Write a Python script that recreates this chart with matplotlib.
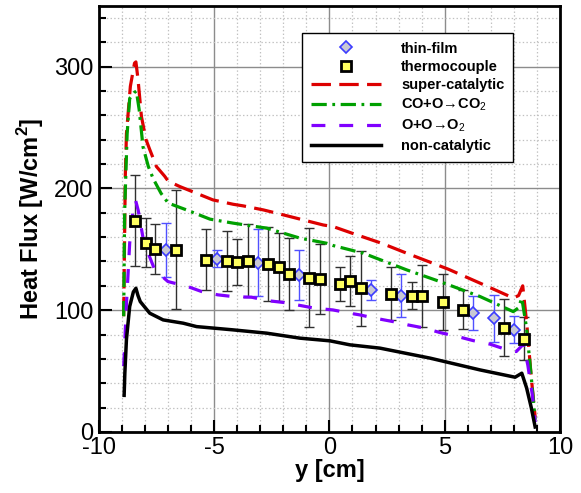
import matplotlib
matplotlib.use("Agg")
import matplotlib.pyplot as plt
from matplotlib.ticker import MultipleLocator
import numpy as np

plt.rcParams['font.family'] = ['Liberation Sans', 'DejaVu Sans']
plt.rcParams['mathtext.fontset'] = 'custom'
plt.rcParams['mathtext.rm'] = 'Liberation Sans'
plt.rcParams['mathtext.bf'] = 'Liberation Sans:bold'
plt.rcParams['axes.unicode_minus'] = False
plt.rcParams['lines.scale_dashes'] = False

# thermocouple measurements (y [cm], heat flux, error)
tc_x = [-8.44, -7.97, -7.56, -6.65, -5.34, -4.46, -4.00, -3.54, -2.65, -2.20, -1.77,
        -0.88, -0.43, 0.44, 0.90, 1.35, 2.68, 3.57, 4.01, 4.92, 5.79, 7.56, 8.44]
tc_y = [173.6, 155.6, 150.1, 149.8, 141.6, 140.5, 139.4, 140.5, 137.8, 135.6, 129.6,
        126.8, 125.5, 121.8, 123.8, 118.0, 113.6, 112.0, 111.5, 107.1, 100.2, 85.7, 76.7]
tc_err = [37.5, 20, 20.5, 49, 25, 24.5, 19, 30, 30.5, 28, 29.5,
          41, 29, 14, 20.5, 31, 21.5, 11, 25.5, 23, 16, 23.5, 18]

# thin-film measurements
tf_x = [-7.09, -4.89, -3.10, -1.31, 1.80, 3.12, 6.24, 7.12, 8.02]
tf_y = [149.3, 142.4, 138.9, 129.0, 116.4, 112.0, 97.8, 93.4, 83.8]
tf_err = [22, 7, 27.5, 20.5, 8, 18, 13.7, 19.3, 11]

# CFD solutions
sc_x = [-8.92, -8.88, -8.85, -8.80, -8.63, -8.45, -8.39, -8.30, -8.15, -7.95, -7.79,
        -7.50, -7.14, -6.99, -6.49, -5.05, -4.17, -3.74, -2.87, -2.29, -0.27, 0.16,
        1.11, 2.26, 3.35, 5.15, 6.53, 7.97, 8.20, 8.38, 8.55, 8.75, 8.92]
sc_y = [95, 160, 210, 245, 284, 303, 304, 290, 259, 240, 232,
        218, 210, 206, 201.6, 190.6, 187, 185.7, 182.4, 179.7, 170, 168.7,
        162.4, 155, 146.8, 133.7, 122.2, 110, 112, 120, 90, 45, 12]

co_x = [-8.92, -8.88, -8.77, -8.66, -8.45, -8.37, -8.25, -8.08, -7.85, -7.64, -7.30,
        -6.99, -6.20, -5.18, -4.17, -2.72, -1.28, -0.12, 0.16, 1.47, 3.35, 4.79,
        6.53, 7.97, 8.20, 8.34, 8.55, 8.75, 8.92]
co_y = [95, 180, 245, 274, 279, 280, 265, 234, 218, 208, 196,
        188, 182.4, 174.8, 171.5, 167.4, 159.2, 155, 153.1, 146.8, 133.1, 123.5,
        111.2, 98.8, 102, 110, 85, 45, 10]

oo_x = [-8.92, -8.88, -8.80, -8.66, -8.50, -8.40, -8.29, -8.05, -7.57, -7.00, -6.14,
        -5.54, -4.84, -4.10, -3.38, -2.72, -1.93, -0.63, 0.15, 0.89, 1.32, 1.98,
        2.76, 3.40, 4.14, 4.79, 5.57, 6.23, 6.96, 7.61, 8.10, 8.41, 8.60, 8.80, 8.92]
oo_y = [54, 70, 105, 155, 185, 190, 182, 156, 133, 123.5, 119.4,
        115.3, 112.6, 111, 110.7, 107.9, 106.2, 101.6, 100.2, 97.5, 96.1, 93.4,
        90.6, 87.9, 85.2, 81.6, 78.3, 75, 72.1, 68, 66, 72, 55, 30, 8]

nc_x = [-8.90, -8.87, -8.80, -8.66, -8.50, -8.39, -8.30, -8.20, -7.79, -7.21, -6.34,
        -5.76, -4.17, -2.72, -1.28, 0.02, 0.89, 2.19, 4.36, 6.53, 8.05, 8.34,
        8.55, 8.75, 8.92]
nc_y = [30, 48, 76, 103, 115, 118, 112, 107, 97.5, 92, 89.3,
        86.5, 83.8, 81.1, 77, 74.8, 71.5, 68.8, 60.6, 50.9, 44.9, 48.2,
        36, 20, 4]

fig = plt.figure(figsize=(5.81, 4.93), dpi=100)
ax = fig.add_axes([0.170, 0.124, 0.794, 0.864])

# error bars first, underneath everything
ax.errorbar(tc_x, tc_y, yerr=tc_err, fmt='none', ecolor='#303030',
            elinewidth=1.0, capsize=3.8, capthick=1.0, zorder=2)
ax.errorbar(tf_x, tf_y, yerr=tf_err, fmt='none', ecolor='#5050ff',
            elinewidth=1.0, capsize=3.8, capthick=1.0, zorder=2)

ax.plot(tf_x, tf_y, ls='none', marker='D', ms=6.5, mfc='#c8c8d4', mec='#3c3cff',
        mew=1.2, label='thin-film', zorder=6)
ax.plot(tc_x, tc_y, ls='none', marker='s', ms=6.5, mfc='#ffff60', mec='black',
        mew=2.0, label='thermocouple', zorder=7)

ax.plot(sc_x, sc_y, color='#dd0000', lw=2.3, dashes=(14, 6),
        label='super-catalytic', zorder=4)
ax.plot(co_x, co_y, color='#00a000', lw=2.3, dashes=(11, 4, 2, 4),
        label='CO+O→CO$_2$', zorder=4)
ax.plot(oo_x, oo_y, color='#8000ff', lw=2.3, dashes=(10, 10),
        label='O+O→O$_2$', zorder=4)
ax.plot(nc_x, nc_y, color='black', lw=2.5, label='non-catalytic', zorder=5)

ax.set_xlim(-10, 10)
ax.set_ylim(0, 350)
ax.xaxis.set_major_locator(MultipleLocator(5))
ax.xaxis.set_minor_locator(MultipleLocator(1))
ax.yaxis.set_major_locator(MultipleLocator(100))
ax.yaxis.set_minor_locator(MultipleLocator(20))

ax.grid(which='major', color='#8c8c8c', lw=1.0, ls='-', zorder=0)
ax.grid(which='minor', color='#c0c0c0', lw=0.9, ls=':', zorder=0)
ax.set_axisbelow(True)

ax.tick_params(which='both', direction='in', top=False, right=False,
               labelsize=17, width=1.5)
ax.tick_params(which='major', length=9, pad=4)
ax.tick_params(which='minor', length=5)
for s in ax.spines.values():
    s.set_linewidth(2)

ax.set_xlabel('y [cm]', fontsize=17, fontweight='bold', labelpad=0)
ax.set_ylabel(r'Heat Flux [W/cm$^{\mathbf{2}}$]', fontsize=17, fontweight='bold',
              labelpad=6)

leg = ax.legend(loc='upper right', bbox_to_anchor=(0.898, 0.937), borderaxespad=0,
                prop={'weight': 'bold', 'size': 10.5}, handlelength=4.8,
                labelspacing=0.3, borderpad=0.6, handletextpad=1.4,
                fancybox=False, framealpha=1, edgecolor='black')
leg.get_frame().set_linewidth(1.0)

fig.savefig('out.png', dpi=100)
